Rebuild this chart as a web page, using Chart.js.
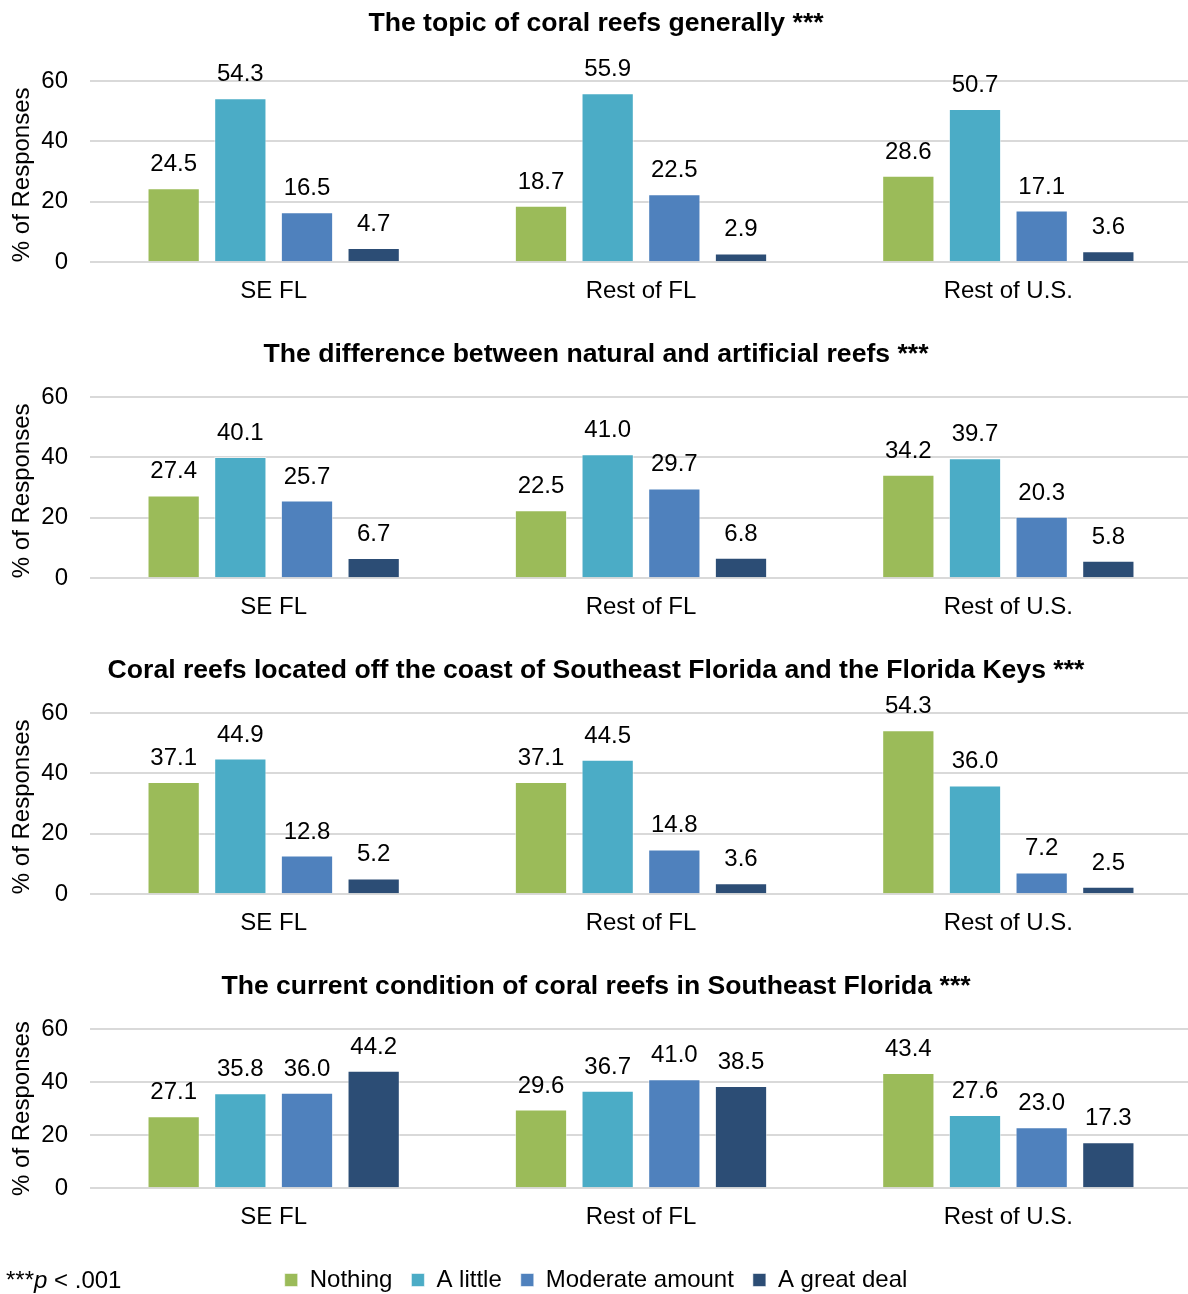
<!DOCTYPE html>
<html>
<head>
<meta charset="utf-8">
<script src="https://cdn.jsdelivr.net/npm/chart.js@4.4.1/dist/chart.umd.min.js"></script>
<style>
  html, body { margin: 0; padding: 0; background: #fff; overflow: hidden; }
  body { width: 1188px; height: 1294px; position: relative; }
  .panel { position: absolute; left: 0; width: 1192px; }
  #note { position: absolute; left: 6px; top: 1266px; font: 24px 'Liberation Sans', Arial, sans-serif; color: #000; }
</style>
</head>
<body>
<div class="panel" style="top:0px;height:313px"><canvas id="chart1"></canvas></div>
<div class="panel" style="top:331px;height:298px"><canvas id="chart2"></canvas></div>
<div class="panel" style="top:647px;height:298px"><canvas id="chart3"></canvas></div>
<div class="panel" style="top:963px;height:339px"><canvas id="chart4"></canvas></div>
<div id="note">***<i>p</i> &lt; .001</div>

<script>
// Data
const regions = ['SE FL', 'Rest of FL', 'Rest of U.S.'];
const levels = ['Nothing', 'A little', 'Moderate amount', 'A great deal'];
const yTicks = [0, 20, 40, 60];

// one row per level, one value per region
const generallyValues = [[24.5, 18.7, 28.6], [54.3, 55.9, 50.7], [16.5, 22.5, 17.1], [4.7, 2.9, 3.6]];
const naturalValues = [[27.4, 22.5, 34.2], [40.1, 41.0, 39.7], [25.7, 29.7, 20.3], [6.7, 6.8, 5.8]];
const locatedValues = [[37.1, 37.1, 54.3], [44.9, 44.5, 36.0], [12.8, 14.8, 7.2], [5.2, 3.6, 2.5]];
const conditionValues = [[27.1, 29.6, 43.4], [35.8, 36.7, 27.6], [36.0, 41.0, 23.0], [44.2, 38.5, 17.3]];

const levelColors = ['#9bbb59', '#4bacc6', '#4f81bd', '#2c4d75'];
const FONT = "'Liberation Sans', Arial, sans-serif";

// value above each bar
const valueLabels = {
  id: 'valueLabels',
  afterDatasetsDraw(chart) {
    const ctx = chart.ctx;
    ctx.save();
    ctx.font = '24px ' + FONT;
    ctx.fillStyle = '#000';
    ctx.textAlign = 'center';
    ctx.textBaseline = 'alphabetic';
    chart.data.datasets.forEach((ds, i) => {
      chart.getDatasetMeta(i).data.forEach((bar, j) => {
        ctx.fillText(ds.data[j].toFixed(1), bar.x, bar.y - 17);
      });
    });
    ctx.restore();
  }
};

function makeChart(id, title, values, titleGap, showLegend) {
  return new Chart(document.getElementById(id), {
    type: 'bar',
    data: {
      labels: regions,
      datasets: levels.map((name, i) => ({
        label: name,
        data: values[i],
        backgroundColor: levelColors[i],
        borderColor: 'rgba(255,255,255,0.55)',
        borderWidth: 1,
        barPercentage: 0.784,
        categoryPercentage: 0.726
      }))
    },
    options: {
      responsive: true,
      maintainAspectRatio: false,
      animation: false,
      layout: { padding: 0 },
      plugins: {
        title: {
          display: true,
          text: title,
          color: '#000',
          font: { family: FONT, size: 26.6, weight: 'bold' },
          padding: { top: 8, bottom: titleGap }
        },
        legend: {
          display: showLegend,
          position: 'bottom',
          labels: {
            color: '#000',
            boxWidth: 13,
            boxHeight: 13,
            padding: 19,
            font: { family: FONT, size: 24 }
          }
        },
        tooltip: { enabled: false }
      },
      scales: {
        x: {
          grid: { display: false },
          border: { display: false },
          ticks: { color: '#000', padding: 7, font: { family: FONT, size: 24 } },
          afterFit: scale => { if (showLegend) scale.height += 10; }
        },
        y: {
          min: 0,
          max: 60,
          afterBuildTicks: scale => { scale.ticks = yTicks.map(v => ({ value: v })); },
          afterFit: scale => { scale.width = 90; },
          grid: { color: '#d9d9d9', lineWidth: 2, drawTicks: false },
          border: { display: false },
          ticks: { color: '#000', padding: 22, font: { family: FONT, size: 24 } },
          title: {
            display: true,
            text: '% of Responses',
            color: '#000',
            align: showLegend ? 'center' : 'start',
            padding: { top: 8, bottom: 0 },
            font: { family: FONT, size: 24 }
          }
        }
      }
    },
    plugins: [valueLabels]
  });
}

makeChart('chart1', 'The topic of coral reefs generally ***', generallyValues, 41, false);
makeChart('chart2', 'The difference between natural and artificial reefs ***', naturalValues, 26, false);
makeChart('chart3', 'Coral reefs located off the coast of Southeast Florida and the Florida Keys ***', locatedValues, 26, false);
makeChart('chart4', 'The current condition of coral reefs in Southeast Florida ***', conditionValues, 26, true);
</script>
</body>
</html>
